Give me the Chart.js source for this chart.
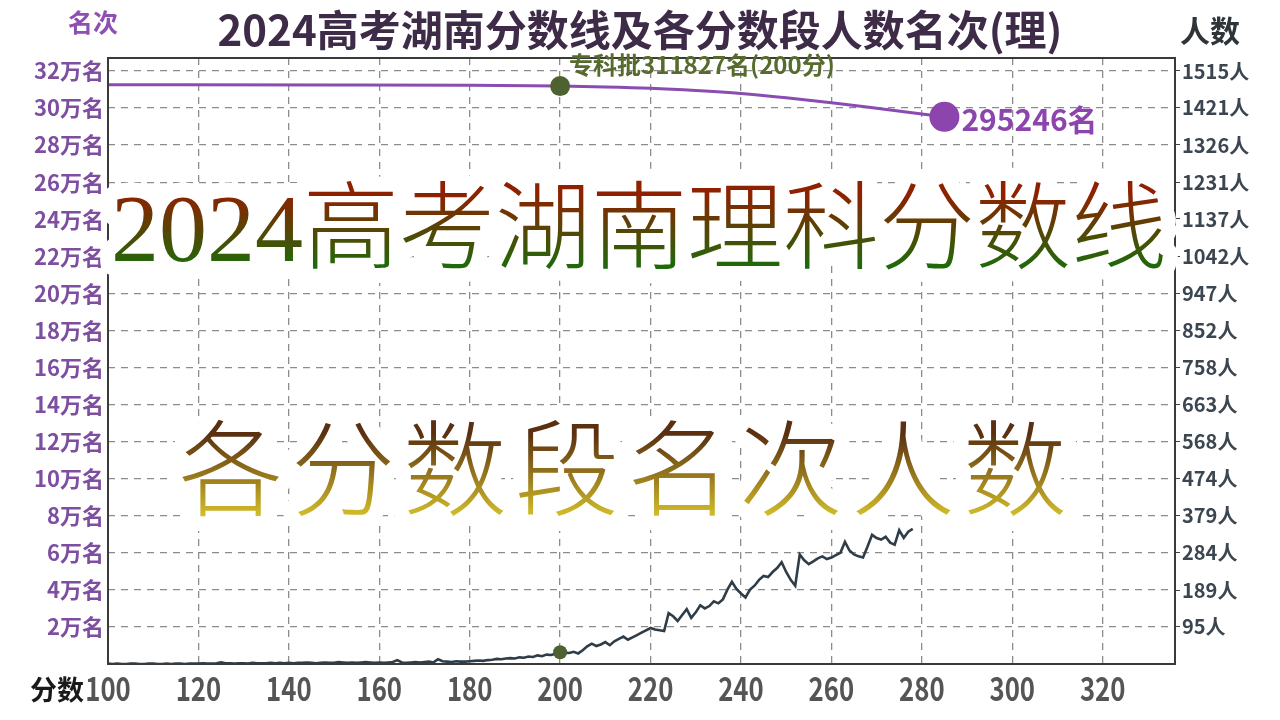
<!DOCTYPE html>
<html>
<head>
<meta charset="utf-8">
<script src="https://cdn.jsdelivr.net/npm/chart.js@4.4.1/dist/chart.umd.min.js"></script>
<style>
  html, body { margin: 0; padding: 0; background: #fff; }
  #wrap { width: 1280px; height: 720px; }
</style>
</head>
<body>
<div id="wrap"><canvas id="c" width="1280" height="720"></canvas></div>
<script>
// ---- data ----
const firstScore = 100
// people at each score, 100 .. 278
const counts = [
  1,0,1,0,0,1,1,0,0,1,1,0,0,1,0,1,1,0,1,1,
  1,2,1,1,2,4,2,2,1,2,2,1,3,2,2,2,3,2,3,2,
  3,2,3,3,4,3,2,3,4,3,3,5,4,3,4,3,4,5,4,3,
  4,3,4,5,10,4,3,4,5,4,5,6,4,12,7,6,5,7,6,6,
  7,8,9,8,10,11,13,12,14,15,14,17,16,19,18,22,20,24,23,26,
  30,29,28,31,27,35,45,52,46,50,56,48,58,64,70,62,68,74,80,86,
  92,88,86,84,130,122,110,125,140,118,132,150,142,148,160,155,165,190,210,192,
  180,170,190,200,215,225,222,235,245,260,235,215,200,280,265,255,262,270,275,268,
  272,278,284,312,290,280,275,272,300,330,322,318,325,310,305,342,322,338,345
]
const rankScores = [100, 150, 180, 200, 210, 220, 230, 240, 250, 260, 270, 280, 285]
const rankValues = [312600, 312450, 312250, 311827, 311400, 310700, 309500, 307900, 305600, 302900, 299900, 296800, 295246]

const cutoffScore = 200
const cutoffRank = 311827
const lastScore = 285
const lastRank = 295246

const xTicks = [100, 120, 140, 160, 180, 200, 220, 240, 260, 280, 300, 320]
const rankTicks = [20000, 40000, 60000, 80000, 100000, 120000, 140000, 160000, 180000, 200000, 220000, 240000, 260000, 280000, 300000, 320000]
const countTicks = [95, 189, 284, 379, 474, 568, 663, 758, 852, 947, 1042, 1137, 1231, 1326, 1421, 1515]

const xMax = 336
const rankMax = 327000
const countMax = countTicks[countTicks.length - 1] * rankMax / rankTicks[rankTicks.length - 1]

const titleText = '2024高考湖南分数线及各分数段人数名次(理)'
const banner1 = '2024高考湖南理科分数线'
const banner2 = '各分数段名次人数'

const countPts = counts.map((c, i) => ({x: firstScore + i, y: c}))
const rankPts = rankScores.map((s, i) => ({x: s, y: rankValues[i]}))

const CJK = "'Noto Sans CJK SC', 'Noto Sans', sans-serif"
const gridColor = '#8c8c8c'

function drawBanner(ctx, text, cx, cy, size, spacing, top, bottom) {
  ctx.save()
  ctx.font = "300 " + size + "px 'Liberation Serif', 'Noto Sans CJK SC', serif"
  ctx.letterSpacing = spacing + 'px'
  ctx.textAlign = 'center'
  ctx.textBaseline = 'middle'
  ctx.lineJoin = 'round'
  ctx.strokeStyle = '#fff'
  ctx.lineWidth = 30
  ctx.strokeText(text, cx, cy)
  const g = ctx.createLinearGradient(0, cy - size * 0.45, 0, cy + size * 0.45)
  g.addColorStop(0, top)
  g.addColorStop(1, bottom)
  ctx.fillStyle = g
  ctx.fillText(text, cx, cy)
  ctx.restore()
}

const decor = {
  id: 'decor',
  afterDatasetsDraw(chart) {
    const {ctx, chartArea: a, scales} = chart
    ctx.save()
    ctx.strokeStyle = '#3a3a3a'
    ctx.lineWidth = 2
    ctx.strokeRect(a.left, a.top, a.right - a.left, a.bottom - a.top)
    // labels on the points
    ctx.font = "bold 24px " + CJK
    ctx.fillStyle = '#566b2c'
    ctx.textBaseline = 'middle'
    ctx.fillText('专科批' + cutoffRank + '名(' + cutoffScore + '分)', scales.x.getPixelForValue(cutoffScore) + 9, scales.y.getPixelForValue(cutoffRank) - 21)
    ctx.font = "bold 30px " + CJK
    ctx.fillStyle = '#8c45ad'
    ctx.fillText(lastRank + '名', scales.x.getPixelForValue(lastScore) + 17, scales.y.getPixelForValue(lastRank) + 3)
    // x tick labels, condensed like the reference
    ctx.font = "bold 33px " + CJK
    ctx.fillStyle = '#555'
    ctx.textAlign = 'center'
    xTicks.forEach(v => {
      ctx.save()
      ctx.translate(scales.x.getPixelForValue(v), 688)
      ctx.scale(0.78, 1)
      ctx.fillText(String(v), 0, 0)
      ctx.restore()
    })
    ctx.restore()
  },
  afterDraw(chart) {
    const ctx = chart.ctx
    drawBanner(ctx, banner1, 639, 236, 96, 0, '#8f2000', '#0c760c')
    drawBanner(ctx, banner2, 627, 481, 104, 8, '#5a3010', '#e4d22e')
    ctx.save()
    ctx.textAlign = 'center'
    ctx.textBaseline = 'middle'
    ctx.font = "bold 42px " + CJK
    ctx.fillStyle = '#3e2b48'
    ctx.fillText(titleText, 640, 30)
    ctx.font = "bold 25px " + CJK
    ctx.fillStyle = '#8e50b0'
    ctx.fillText('名次', 93, 22)
    ctx.font = "bold 30px " + CJK
    ctx.fillStyle = '#2f3438'
    ctx.fillText('人数', 1210, 31)
    ctx.font = "bold 27px " + CJK
    ctx.fillStyle = '#1a1a1a'
    ctx.fillText('分数', 57, 690)
    ctx.restore()
  }
}

new Chart(document.getElementById('c'), {
  type: 'line',
  data: {
    datasets: [
      {data: rankPts, yAxisID: 'y', borderColor: '#8a4cb0', borderWidth: 3, pointRadius: 0, cubicInterpolationMode: 'monotone', order: 2},
      {data: countPts, yAxisID: 'y1', borderColor: '#2f3d48', borderWidth: 2.6, pointRadius: 0, order: 3},
      {data: [{x: cutoffScore, y: cutoffRank}], yAxisID: 'y', showLine: false, pointRadius: 10, pointBackgroundColor: '#4e6130', pointBorderWidth: 0, order: 1},
      {data: [{x: cutoffScore, y: counts[cutoffScore - firstScore]}], yAxisID: 'y1', showLine: false, pointRadius: 7, pointBackgroundColor: '#4e6130', pointBorderWidth: 0, order: 1},
      {data: [{x: lastScore, y: lastRank}], yAxisID: 'y', showLine: false, pointRadius: 15, pointBackgroundColor: '#8c45ad', pointBorderWidth: 0, order: 1}
    ]
  },
  options: {
    responsive: false,
    animation: false,
    layout: {padding: {top: 58, left: 0, right: 0, bottom: 0}},
    plugins: {legend: {display: false}, tooltip: {enabled: false}},
    scales: {
      x: {
        type: 'linear', min: firstScore, max: xMax,
        afterBuildTicks: s => { s.ticks = xTicks.map(v => ({value: v})) },
        afterFit: s => { s.height = 56 },
        grid: {color: gridColor, lineWidth: 1.3, drawTicks: false},
        border: {display: false, dash: [7, 6]},
        ticks: {display: false}
      },
      y: {
        position: 'left', min: 0, max: rankMax,
        afterBuildTicks: s => { s.ticks = rankTicks.map(v => ({value: v})) },
        afterFit: s => { s.width = 108 },
        grid: {color: gridColor, lineWidth: 1.3, drawTicks: false},
        border: {display: false, dash: [7, 6]},
        ticks: {padding: 4, color: '#7e4ea0', font: {family: CJK, size: 22, weight: 'bold'}, callback: v => (v / 10000) + '万名'}
      },
      y1: {
        position: 'right', min: 0, max: countMax,
        afterBuildTicks: s => { s.ticks = countTicks.map(v => ({value: v})) },
        afterFit: s => { s.width = 105 },
        grid: {drawOnChartArea: false, drawTicks: true, tickLength: 5, color: '#444'},
        border: {display: false},
        ticks: {padding: 2, color: '#3c4650', font: {family: CJK, size: 20, weight: 'bold'}, callback: v => v + '人'}
      }
    }
  },
  plugins: [decor]
})
</script>
</body>
</html>
